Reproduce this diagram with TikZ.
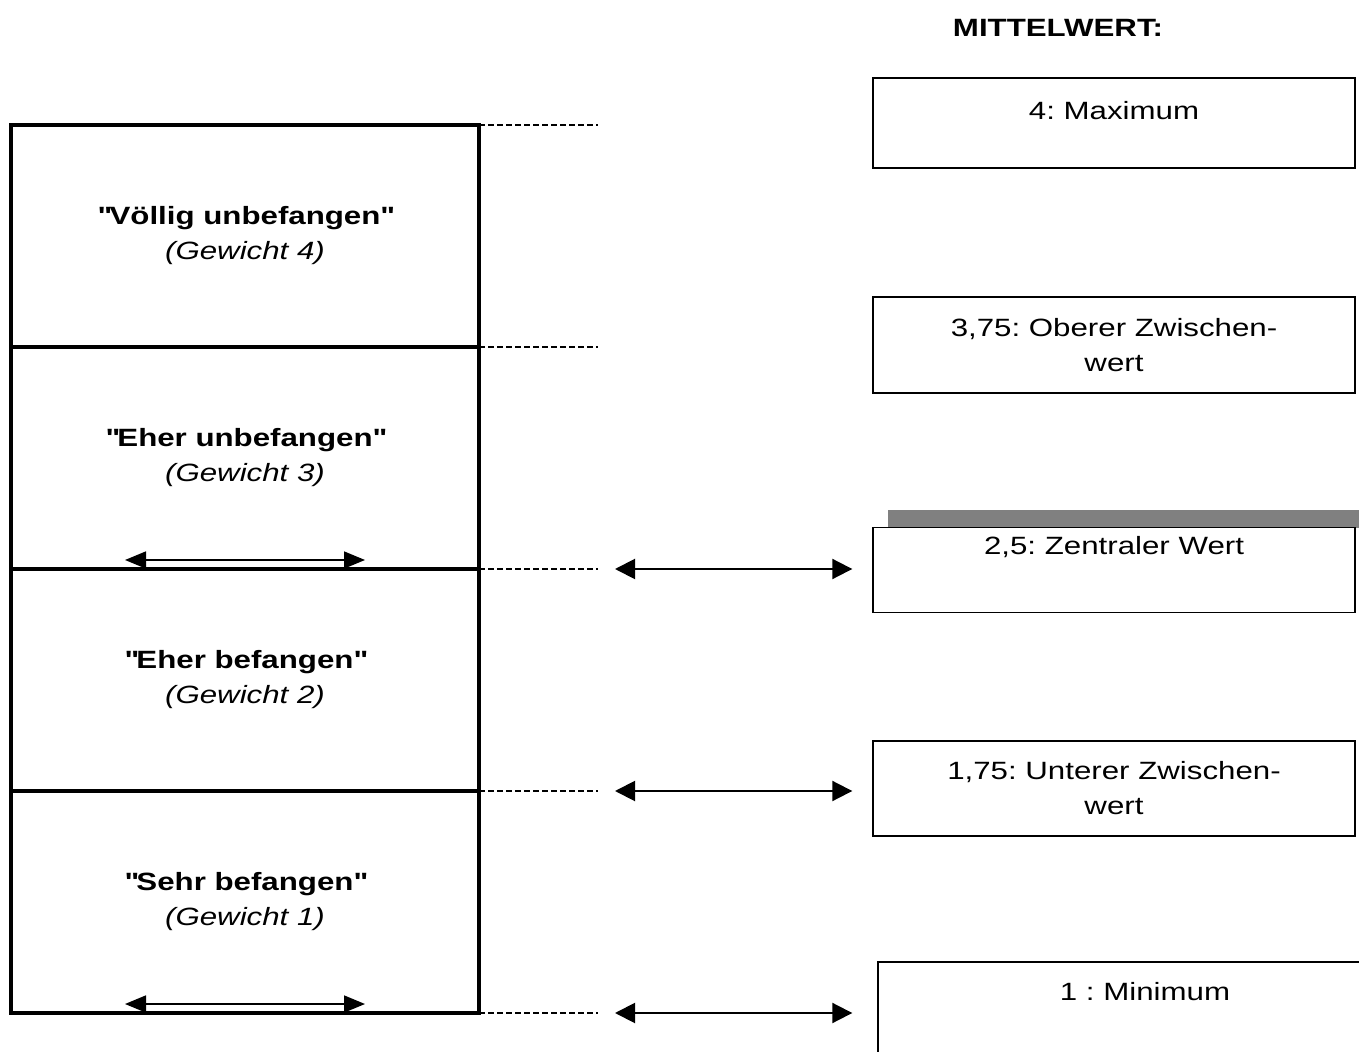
\documentclass[tikz,border=0pt]{standalone}
\usepackage{fontspec}
\setmainfont{Liberation Sans}[FakeStretch=1.25]
\usepackage{tikz}
\usetikzlibrary{positioning,arrows.meta}
\frenchspacing
\definecolor{schatten}{HTML}{808080}
\newcommand{\zitat}[1]{\textquotedbl#1\textquotedbl}
\tikzstyle{stufe}=[draw,line width=2pt,minimum width=234pt,minimum height=111pt,inner sep=0pt,outer sep=0pt,align=center]
\tikzstyle{wertbox}=[draw,line width=0.7pt,minimum width=241pt,inner sep=0pt,fill=white,align=center]
\tikzstyle{hilfslinie}=[line width=1.2pt,dash pattern=on 2.75pt off 1.75pt]
\tikzstyle{pfeil}=[line width=1pt,>={Triangle[length=10pt,width=10pt]},<->]
\tikzstyle{kleinpfeil}=[line width=0.8pt,>={Triangle[length=10.5pt,width=8.5pt]},<->]
\tikzstyle{zeile}=[inner sep=0pt,text height=9pt,text depth=0pt]

\begin{document}
\begin{tikzpicture}[x=0.5pt,y=-0.5pt,font=\fontsize{12.5pt}{17.5pt}\selectfont]
\useasboundingbox (0,0) rectangle (1359,1052);
\clip (0,0) rectangle (1359,1052);

% Stufen links
\node [stufe] (voellig) at (245,236) {\textbf{\zitat{Völlig unbefangen}}\\\textit{(Gewicht 4)}};
\node [stufe,below=0pt of voellig] (eherun) {\textbf{\zitat{Eher unbefangen}}\\\textit{(Gewicht 3)}};
\node [stufe,below=0pt of eherun] (eherbe) {\textbf{\zitat{Eher befangen}}\\\textit{(Gewicht 2)}};
\node [stufe,below=0pt of eherbe] (sehr) {\textbf{\zitat{Sehr befangen}}\\\textit{(Gewicht 1)}};

\draw [kleinpfeil] ([xshift=-60pt,yshift=4.5pt]eherun.south) -- ([xshift=60pt,yshift=4.5pt]eherun.south);
\draw [kleinpfeil] ([xshift=-60pt,yshift=4.5pt]sehr.south) -- ([xshift=60pt,yshift=4.5pt]sehr.south);

% Mittelwerte rechts
\node [zeile] (titel) at (1058,28) {\textbf{MITTELWERT:}};
\node [wertbox,minimum height=45pt] (max) at (1114,123) {};
\node [zeile] (maxtext) at ([yshift=-16.5pt]max.north) {4: Maximum};
\node [wertbox,minimum height=48pt] (oberer) at (1114,345) {3,75: Oberer Zwischen-\\wert};
\fill [schatten] (888,510) rectangle (1359,528);
\node [wertbox,minimum height=42.5pt] (zentral) at (1114,570) {};
\node [zeile] (zentraltext) at ([yshift=-9.5pt]zentral.north) {2,5: Zentraler Wert};
\node [wertbox,minimum height=47.5pt] (unterer) at (1114,788.5) {1,75: Unterer Zwischen-\\wert};
\node [wertbox,minimum width=270pt,minimum height=50pt] (minimum) at (1148,1012) {};
\node [zeile] (minimumtext) at (1145,991) {1 : Minimum};

% Hilfslinien
\coordinate (h1) at ([xshift=59.5pt]voellig.north east);
\coordinate (h2) at ([xshift=59.5pt]eherun.north east);
\coordinate (h3) at ([xshift=59.5pt]eherbe.north east);
\coordinate (h4) at ([xshift=59.5pt]sehr.north east);
\coordinate (h5) at ([xshift=59.5pt]sehr.south east);
\draw [hilfslinie] (voellig.north east) -- (h1);
\draw [hilfslinie] (eherun.north east) -- (h2);
\draw [hilfslinie] (eherbe.north east) -- (h3);
\draw [hilfslinie] (sehr.north east) -- (h4);
\draw [hilfslinie] (sehr.south east) -- (h5);

% Pfeile
\coordinate (p3) at ([xshift=68pt]eherbe.north east);
\coordinate (p4) at ([xshift=68pt]sehr.north east);
\coordinate (p5) at ([xshift=68pt]sehr.south east);
\draw [pfeil] (p3) -- ([xshift=-10pt]p3 -| zentral.west);
\draw [pfeil] (p4) -- ([xshift=-10pt]p4 -| unterer.west);
\draw [pfeil] (p5) -- ([xshift=-12.5pt]p5 -| minimum.west);
\end{tikzpicture}
\end{document}
